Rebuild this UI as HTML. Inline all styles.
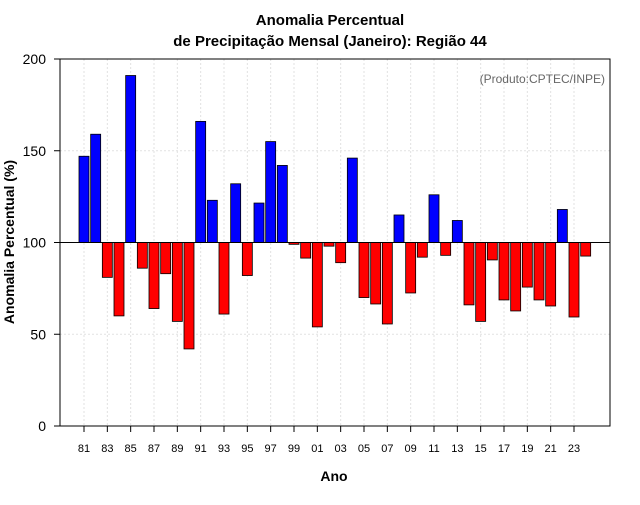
<!DOCTYPE html>
<html><head><meta charset="utf-8"><style>
body{margin:0;background:#fff;font-family:"Liberation Sans",sans-serif;}
svg text{font-family:"Liberation Sans",sans-serif;}
</style></head><body>
<svg id="chart" width="640" height="500">
<text x="330" y="25" text-anchor="middle" font-weight="bold" font-size="15">Anomalia Percentual</text>
<text x="330" y="46" text-anchor="middle" font-weight="bold" font-size="15">de Precipitação Mensal (Janeiro): Região 44</text>
<g id="grid"></g><g id="bars"></g><g id="axes"></g>
<rect x="60" y="59" width="550" height="367" fill="none" stroke="#000"/>
<text x="605" y="83" text-anchor="end" font-size="12" fill="#666">(Produto:CPTEC/INPE)</text>
<text x="334" y="481" text-anchor="middle" font-weight="bold" font-size="14">Ano</text>
<text transform="translate(14,242) rotate(-90)" text-anchor="middle" font-weight="bold" font-size="14">Anomalia Percentual (%)</text>
</svg>
<script>
const years=[1981,1982,1983,1984,1985,1986,1987,1988,1989,1990,1991,1992,1993,1994,1995,1996,1997,1998,1999,2000,2001,2002,2003,2004,2005,2006,2007,2008,2009,2010,2011,2012,2013,2014,2015,2016,2017,2018,2019,2020,2021,2022,2023,2024];
const values=[147,159,81,60,191,86,64,83,57,42,166,123,61,132,82,121.5,155,142,99,91.5,54,98,89,146,70,66.5,55.6,115,72.5,92,126,93,112,66,57,90.5,68.7,62.7,75.7,68.7,65.4,118,59.4,92.6];
const yTicks=[0,50,100,150,200];
const xTickYears=[1981,1983,1985,1987,1989,1991,1993,1995,1997,1999,2001,2003,2005,2007,2009,2011,2013,2015,2017,2019,2021,2023];
const NS='http://www.w3.org/2000/svg';
const y=v=>426-v*367/200;
const x=yr=>84+(yr-1981)*(490/42);
function mk(t,a,p){const e=document.createElementNS(NS,t);for(const k in a)e.setAttribute(k,a[k]);p.appendChild(e);return e;}
const grid=document.getElementById('grid'),bars=document.getElementById('bars'),axes=document.getElementById('axes');
yTicks.forEach(v=>{
 const l=mk('line',{x1:60,x2:610,y1:y(v),y2:y(v),stroke:'#e2e2e2','stroke-dasharray':'2,2'},grid);
 
 
 const tk=mk('line',{x1:54,x2:60,y1:y(v),y2:y(v),stroke:'#000'},axes);
 
 
 const t=mk('text',{x:46,y:y(v)+5,'text-anchor':'end','font-size':14},axes);t.textContent=v;
 
 
});
xTickYears.forEach(yr=>{
 const l=mk('line',{x1:x(yr),x2:x(yr),y1:59,y2:426,stroke:'#e2e2e2','stroke-dasharray':'2,2'},grid);
 
 
 const tk=mk('line',{x1:x(yr),x2:x(yr),y1:426,y2:432,stroke:'#000'},axes);
 
 
 const t=mk('text',{x:x(yr),y:452,'text-anchor':'middle','font-size':11},axes);t.textContent=String(yr%100).padStart(2,'0');
 
 
});
years.forEach((yr,i)=>{
 const v=values[i],top=Math.min(y(v),y(100)),h=Math.abs(y(v)-y(100));
 const r=mk('rect',{x:x(yr)-5,y:top,width:10,height:Math.max(h,0.5),fill:v>=100?'#0000ff':'#ff0000',stroke:'#000','stroke-width':0.8},bars);
 
 
});
const base=mk('line',{x1:60,x2:610,y1:y(100),y2:y(100),stroke:'#000'},bars);


</script>
</body></html>
